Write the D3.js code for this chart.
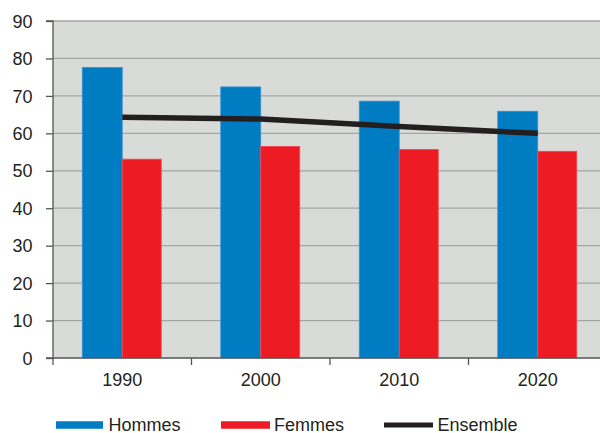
<!DOCTYPE html>
<html><head><meta charset="utf-8">
<script src="https://cdn.jsdelivr.net/npm/d3@7"></script>
<style>html,body{margin:0;padding:0;background:#fff;}svg{display:block;}</style>
</head><body>
<svg id="c" width="600" height="433"></svg>
<script>
const categories = ["1990", "2000", "2010", "2020"];
const hommes = [77.6, 72.4, 68.6, 65.9];
const femmes = [53.1, 56.5, 55.7, 55.2];
const ensemble = [64.3, 63.8, 61.8, 60.0];
const yTicks = [0, 10, 20, 30, 40, 50, 60, 70, 80, 90];
const legendLabels = ["Hommes", "Femmes", "Ensemble"];

(function () {
const svg = d3.select("#c");
const mLeft = 53, mTop = 21, mBottom = 358, bandW = 138.5;
const plotRight = 600;
const font = "'Liberation Sans', Arial, sans-serif";
const fs = 18;

const x = d3.scaleBand().domain(categories).range([mLeft, mLeft + bandW * categories.length]).paddingInner(0).paddingOuter(0);
const y = d3.scaleLinear().domain([0, 90]).range([mBottom, mTop]);

svg.append("rect").attr("x", mLeft).attr("y", mTop).attr("width", plotRight - mLeft).attr("height", mBottom - mTop).attr("fill", "#d9dbd8");

svg.append("g").selectAll("line").data(yTicks.filter(d => d > 0)).join("line")
  .attr("x1", mLeft).attr("x2", plotRight).attr("y1", d => y(d)).attr("y2", d => y(d))
  .attr("stroke", "#a4a6a5").attr("stroke-width", 1.3);

const barW = 40;
const g = svg.append("g");
g.selectAll("rect.h").data(hommes).join("rect").attr("class", "h")
  .attr("x", (d, i) => x(categories[i]) + x.bandwidth() / 2 - barW)
  .attr("y", d => y(d)).attr("width", barW).attr("height", d => y(0) - y(d))
  .attr("fill", "#007cc3").attr("stroke", "#3b93cf").attr("stroke-width", 0.8);
g.selectAll("rect.f").data(femmes).join("rect").attr("class", "f")
  .attr("x", (d, i) => x(categories[i]) + x.bandwidth() / 2)
  .attr("y", d => y(d)).attr("width", barW - 1).attr("height", d => y(0) - y(d))
  .attr("fill", "#ed1c24").attr("stroke", "#ef4a50").attr("stroke-width", 0.8);

const line = d3.line().x((d, i) => x(categories[i]) + x.bandwidth() / 2).y(d => y(d));
svg.append("path").attr("d", line(ensemble)).attr("fill", "none")
  .attr("stroke", "#231f20").attr("stroke-width", 5.5);

// y axis
const yAxis = d3.axisLeft(y).tickValues(yTicks).tickSize(7).tickPadding(13.5);
const ya = svg.append("g").attr("transform", `translate(${mLeft},0)`).call(yAxis);
ya.select(".domain").attr("stroke", "#555").attr("stroke-width", 1.3).attr("d", `M-7,${mTop}H0V${mBottom}H-7`);
ya.selectAll(".tick line").attr("stroke", "#555").attr("stroke-width", 1.3);
ya.selectAll(".tick text").attr("fill", "#231f20").attr("font-family", font).attr("font-size", fs).attr("dy", "0.34em");

// x axis
const xa = svg.append("g").attr("transform", `translate(0,${mBottom})`);
xa.append("line").attr("x1", mLeft).attr("x2", plotRight).attr("y1", 0).attr("y2", 0).attr("stroke", "#555").attr("stroke-width", 1.3);
xa.selectAll("line.t").data(categories).join("line").attr("class", "t")
  .attr("x1", d => x(d)).attr("x2", d => x(d)).attr("y1", 0).attr("y2", 7)
  .attr("stroke", "#555").attr("stroke-width", 1.3);
xa.selectAll("text").data(categories).join("text")
  .attr("x", d => x(d) + x.bandwidth() / 2).attr("y", 27.7).attr("text-anchor", "middle")
  .attr("fill", "#231f20").attr("font-family", font).attr("font-size", fs).text(d => d);

// legend
const legend = [
  {sx: 56, sw: 47, h: 7.5, color: "#007cc3", tx: 108.5},
  {sx: 221, sw: 49, h: 7.5, color: "#ed1c24", tx: 274},
  {sx: 384, sw: 49, h: 5, color: "#231f20", tx: 437.5}
];
const lg = svg.append("g");
legend.forEach((l, i) => {
  lg.append("rect").attr("x", l.sx).attr("y", 425 - l.h / 2).attr("width", l.sw).attr("height", l.h).attr("fill", l.color);
  lg.append("text").attr("x", l.tx).attr("y", 430.5).attr("fill", "#231f20")
    .attr("font-family", font).attr("font-size", fs).text(legendLabels[i]);
});
})();
</script>
</body></html>
